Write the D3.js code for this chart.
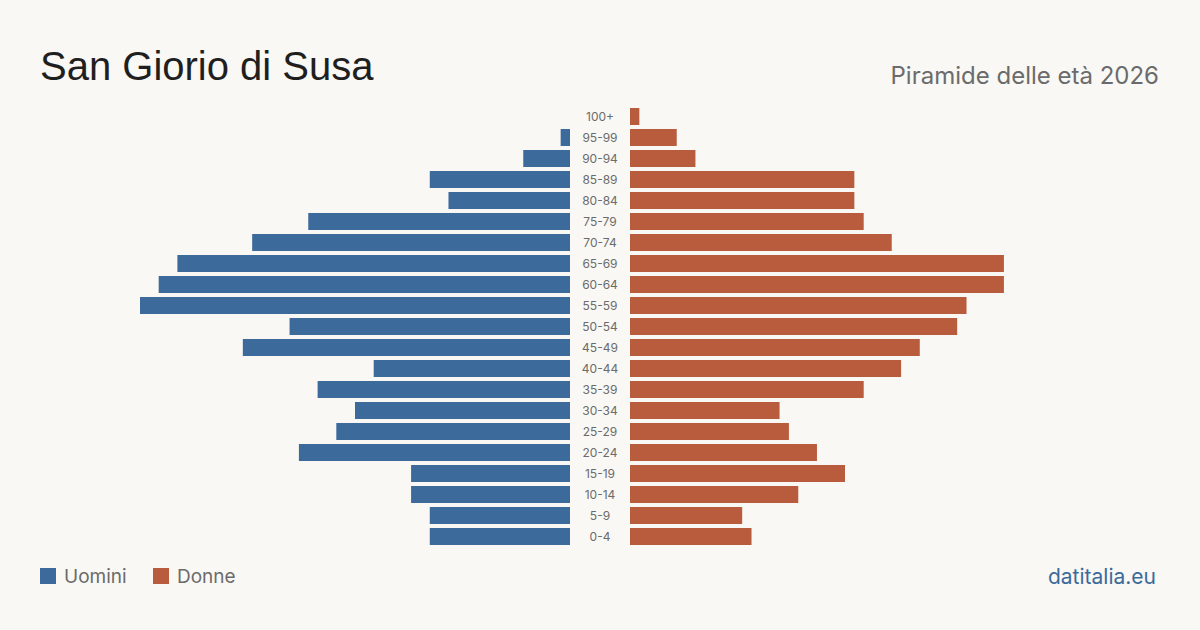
<!DOCTYPE html>
<html>
<head>
<meta charset="utf-8">
<script src="https://cdn.jsdelivr.net/npm/d3@7"></script>
<style>
  body { margin: 0; background: #f9f8f4; }
  svg { display: block; font-family: Inter, "Liberation Sans", sans-serif; }
</style>
</head>
<body>
<div id="chart"></div>
<script>
// eta, dall'alto in basso
const ageGroups = ["100+","95-99","90-94","85-89","80-84","75-79","70-74","65-69","60-64","55-59",
  "50-54","45-49","40-44","35-39","30-34","25-29","20-24","15-19","10-14","5-9","0-4"];
const uomini = [0,1,5,15,13,28,34,42,44,46,30,35,21,27,23,25,29,17,17,15,15];
const donne  = [1,5,7,24,24,25,28,40,40,36,35,31,29,25,16,17,20,23,18,12,13];
const legendLabels = ["Uomini","Donne"];

const W = 1200, H = 630;
const blue = "#3c6a9b", red = "#b95c3d";

var svg = d3.select("#chart").append("svg")
  .attr("width", W).attr("height", H);

svg.append("rect").attr("width", W).attr("height", H).attr("fill", "#f9f8f4");

svg.append("text")
  .attr("x", 40).attr("y", 80)
  .attr("font-size", 40).attr("fill", "#1f1f1f")
  .style("font-family", "'Liberation Sans', Arial, sans-serif")
  .text("San Giorio di Susa");

svg.append("text")
  .attr("x", 1159).attr("y", 84)
  .attr("text-anchor", "end")
  .attr("font-size", 24).attr("fill", "#6b6b6b")
  .text("Piramide delle età 2026");

var y = d3.scaleBand()
  .domain(ageGroups)
  .range([106, 547])
  .paddingInner(0.19).paddingOuter(0.095);

var maxV = d3.max(uomini.concat(donne));
var xL = d3.scaleLinear().domain([0, maxV]).range([570, 140]);
var xR = d3.scaleLinear().domain([0, maxV]).range([630, 1060]);

svg.selectAll("rect.m")
  .data(uomini)
  .enter()
  .append("rect")
  .attr("class", "m")
  .attr("fill", blue)
  .attr("x", function(d){ return xL(d); })
  .attr("width", function(d){ return xL(0) - xL(d); })
  .attr("y", function(d, i){ return y(ageGroups[i]); })
  .attr("height", y.bandwidth());

svg.selectAll("rect.f")
  .data(donne)
  .enter()
  .append("rect")
  .attr("class", "f")
  .attr("fill", red)
  .attr("x", xR(0))
  .attr("width", function(d){ return xR(d) - xR(0); })
  .attr("y", function(d, i){ return y(ageGroups[i]); })
  .attr("height", y.bandwidth());

svg.selectAll("text.age")
  .data(ageGroups)
  .enter()
  .append("text")
  .attr("class", "age")
  .attr("x", 600)
  .attr("y", function(d){ return y(d) + y.bandwidth() / 2; })
  .attr("dy", "0.35em")
  .attr("text-anchor", "middle")
  .attr("font-size", 12).attr("fill", "#6b6b6b")
  .text(function(d){ return d; });

// legenda
var legX = [40, 153];
var leg = svg.selectAll("g.leg")
  .data(legendLabels)
  .enter()
  .append("g")
  .attr("class", "leg")
  .attr("transform", function(d, i){ return "translate(" + legX[i] + ",568)"; });
leg.append("rect")
  .attr("width", 16).attr("height", 16)
  .attr("fill", function(d, i){ return i == 0 ? blue : red; });
leg.append("text")
  .attr("x", 24).attr("y", 8).attr("dy", "0.35em")
  .attr("font-size", 19).attr("fill", "#6b6b6b")
  .text(function(d){ return d; });

svg.append("text")
  .attr("x", 1156).attr("y", 584)
  .attr("text-anchor", "end")
  .attr("font-size", 21).attr("fill", "#3c6a9b")
  .text("datitalia.eu");
</script>
</body>
</html>
